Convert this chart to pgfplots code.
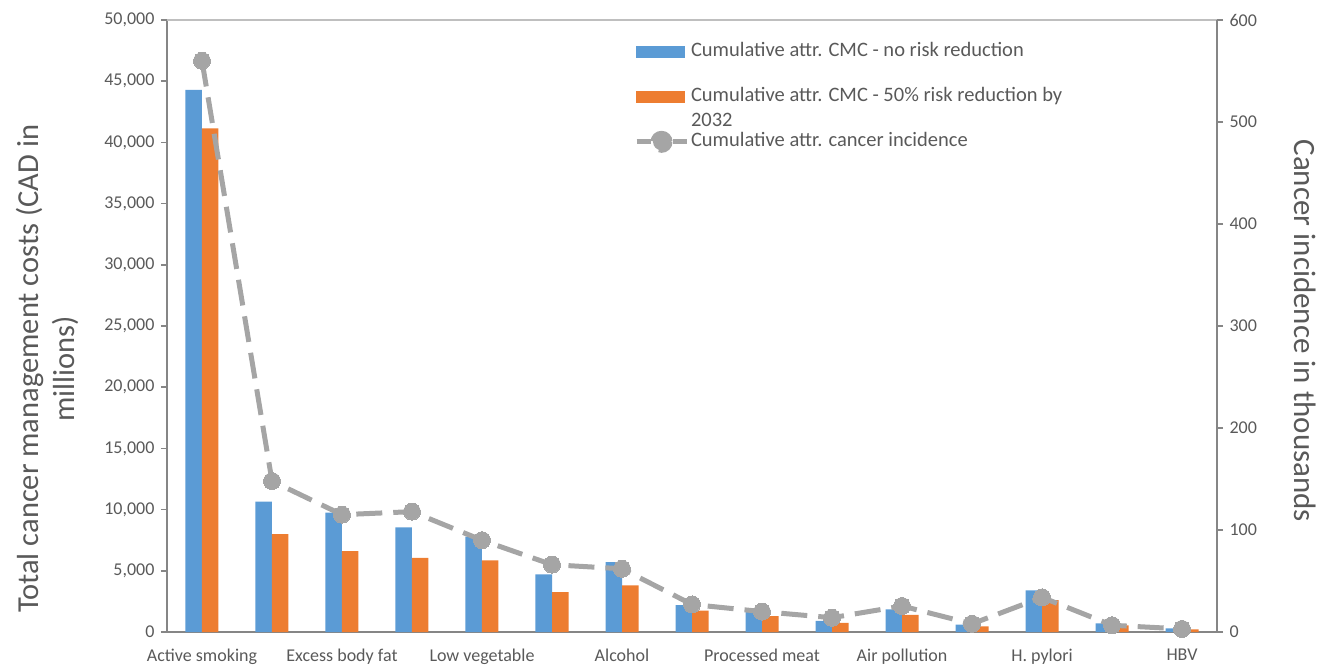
\documentclass[border=0pt]{standalone}
\usepackage{pgfplots}
\pgfplotsset{compat=1.18}
\usepackage{fontspec}
\setmainfont{Carlito}
\definecolor{cblue}{HTML}{5B9BD5}
\definecolor{corange}{HTML}{ED7D31}
\definecolor{cgray}{HTML}{A5A5A5}
\definecolor{axgray}{HTML}{868686}
\definecolor{topgray}{HTML}{BFBFBF}
\definecolor{txtgray}{HTML}{595959}
\begin{document}
\begin{tikzpicture}
\path[use as bounding box] (-167pt,-35pt) rectangle (1164pt,632pt);
\begin{axis}[
  at={(0pt,0pt)}, anchor=south west, scale only axis,
  width=1050pt, height=612pt,
  xmin=-0.5, xmax=14.5, ymin=0, ymax=50000,
  axis x line*=bottom, axis y line*=left,
  axis line style={axgray, line width=1.6pt},
  ybar=0pt, bar width=16.5pt,
  xtick={0,2,...,14},
  xticklabels={Active smoking, Excess body fat, Low vegetable, Alcohol, Processed meat, Air pollution, H. pylori, HBV},
  x tick style={draw=none},
  xticklabel style={font=\fontsize{18}{21}\selectfont, text=txtgray, yshift=-7.5pt},
  ytick={0,5000,...,50000},
  y tick style={axgray, line width=1.6pt},
  tick align=outside, major tick length=6pt,
  scaled y ticks=false,
  yticklabel style={font=\fontsize{18}{21}\selectfont, text=txtgray, xshift=-3pt},
  /pgf/number format/.cd, 1000 sep={,}, assume math mode=true,
  /pgfplots/.cd,
  ylabel={Total cancer management costs (CAD in\\millions)},
  ylabel style={align=center, font=\fontsize{30.5}{36}\selectfont, text=txtgray,
    at={(axis description cs:-0.114,0.43)}, anchor=center},
]
\addplot[fill=cblue, draw=none] coordinates {
 (0,44300) (1,10650) (2,9750) (3,8550) (4,7800) (5,4700) (6,5700) (7,2200)
 (8,1800) (9,900) (10,1850) (11,600) (12,3400) (13,700) (14,300)};
\addplot[fill=corange, draw=none] coordinates {
 (0,41150) (1,8000) (2,6600) (3,6050) (4,5850) (5,3250) (6,3800) (7,1750)
 (8,1300) (9,750) (10,1400) (11,450) (12,2600) (13,550) (14,220)};
\end{axis}
\begin{axis}[
  at={(0pt,0pt)}, anchor=south west, scale only axis,
  width=1050pt, height=612pt,
  xmin=-0.5, xmax=14.5, ymin=0, ymax=600,
  axis y line*=right, axis x line*=top,
  xtick=\empty,
  x axis line style={topgray, line width=1.4pt},
  y axis line style={axgray, line width=1.6pt},
  ytick={0,100,...,600},
  y tick style={axgray, line width=1.6pt},
  tick align=outside, major tick length=6pt,
  yticklabel style={font=\fontsize{18}{21}\selectfont, text=txtgray, xshift=3pt},
  /pgf/number format/assume math mode=true,
  ylabel={Cancer incidence in thousands},
  ylabel style={font=\fontsize{31}{36}\selectfont, text=txtgray,
    at={(axis description cs:1.084,0.492)}, anchor=center, rotate=180},
  legend style={at={(axis description cs:0.4448,0.966)}, anchor=north west,
    draw=none, fill=none, inner sep=0pt, outer sep=0pt,
    font=\fontsize{20.5}{25}\selectfont, text=txtgray, row sep=23pt,
    nodes={text height=14pt, text depth=4pt, inner sep=2pt}},
  legend cell align=left,
]
\addlegendimage{legend image code/.code={\fill[cblue] (0pt,-5.5pt) rectangle (48pt,5.5pt);}}
\addlegendentry{Cumulative attr. CMC - no risk reduction}
\addlegendimage{legend image code/.code={\fill[corange] (0pt,-5.5pt) rectangle (48pt,5.5pt);}}
\addlegendentry{\smash{\parbox[t]{420pt}{\raggedright Cumulative attr. CMC - 50\% risk reduction by\\2032}}}
\addplot[cgray, line width=5pt, dash pattern=on 26pt off 11pt,
  mark=*, mark size=8.5pt, mark options={solid, fill=cgray, draw=cgray, line width=0pt},
  legend image code/.code={\draw[cgray, line width=5pt] (0pt,0pt) -- (14pt,0pt) (36pt,0pt) -- (50pt,0pt); \fill[cgray] (25pt,0pt) circle (8.5pt);}]
 coordinates {
 (0,560) (1,148) (2,115) (3,118) (4,90) (5,66) (6,62) (7,27)
 (8,20) (9,14) (10,25.5) (11,8) (12,34) (13,6.6) (14,3)};
\addlegendentry{Cumulative attr. cancer incidence}
\end{axis}
\end{tikzpicture}
\end{document}
